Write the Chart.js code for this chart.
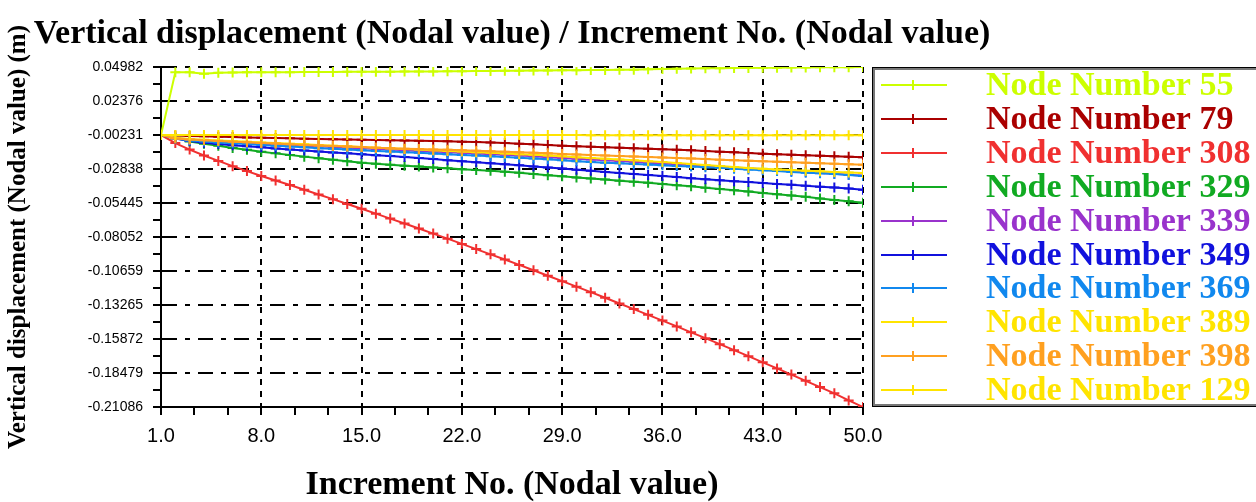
<!DOCTYPE html>
<html>
<head>
<meta charset="utf-8">
<title>Vertical displacement / Increment No.</title>
<script src="https://cdn.jsdelivr.net/npm/chart.js@4.4.1/dist/chart.umd.min.js"></script>
<style>
  html, body { margin: 0; padding: 0; background: #fff; }
  canvas { display: block; }
</style>
</head>
<body>
<canvas id="dispChart" width="1256" height="502"></canvas>
<script>
// Increment numbers (x values)
const increments = [1, 2, 3, 4, 5, 6, 7, 8, 9, 10,
    11, 12, 13, 14, 15, 16, 17, 18, 19, 20,
    21, 22, 23, 24, 25, 26, 27, 28, 29, 30,
    31, 32, 33, 34, 35, 36, 37, 38, 39, 40,
    41, 42, 43, 44, 45, 46, 47, 48, 49, 50];

// Vertical displacement per node (m)
const node55 = [-0.0023, 0.0457, 0.0457, 0.0447, 0.0455, 0.0456, 0.0457, 0.0457, 0.0458, 0.0458,
    0.0459, 0.0459, 0.0460, 0.0461, 0.0461, 0.0462, 0.0462, 0.0463, 0.0463, 0.0464,
    0.0465, 0.0466, 0.0467, 0.0468, 0.0469, 0.0470, 0.0471, 0.0472, 0.0473, 0.0474,
    0.0475, 0.0476, 0.0477, 0.0478, 0.0480, 0.0482, 0.0484, 0.0486, 0.0488, 0.0489,
    0.0490, 0.0491, 0.0492, 0.0493, 0.0494, 0.0495, 0.0496, 0.0497, 0.0497, 0.04982];
const node79 = [-0.0023, -0.0027, -0.0030, -0.0033, -0.0036, -0.0039, -0.0042, -0.0045, -0.0047, -0.0049,
    -0.0051, -0.0053, -0.0055, -0.0057, -0.0059, -0.0061, -0.0063, -0.0065, -0.0067, -0.0069,
    -0.0071, -0.0074, -0.0077, -0.0081, -0.0085, -0.0090, -0.0095, -0.0100, -0.0105, -0.0109,
    -0.0113, -0.0117, -0.0121, -0.0125, -0.0129, -0.0133, -0.0137, -0.0141, -0.0146, -0.0151,
    -0.0156, -0.0161, -0.0166, -0.0171, -0.0175, -0.0179, -0.0183, -0.0187, -0.0190, -0.0193];
const node308 = [-0.0023, -0.0085, -0.0135, -0.0180, -0.0222, -0.0262, -0.0300, -0.0337, -0.0372, -0.0407,
    -0.0443, -0.0479, -0.0515, -0.0552, -0.0589, -0.0626, -0.0664, -0.0702, -0.0740, -0.0779,
    -0.0818, -0.0858, -0.0898, -0.0938, -0.0978, -0.1019, -0.1060, -0.1102, -0.1144, -0.1186,
    -0.1228, -0.1271, -0.1315, -0.1358, -0.1402, -0.1446, -0.1491, -0.1536, -0.1581, -0.1627,
    -0.1673, -0.1719, -0.1766, -0.1813, -0.1860, -0.1908, -0.1956, -0.2004, -0.2058, -0.21086];
const node329 = [-0.0023, -0.0045, -0.0073, -0.0090, -0.0106, -0.0122, -0.0137, -0.0151, -0.0164, -0.0177,
    -0.0189, -0.0201, -0.0213, -0.0224, -0.0235, -0.0243, -0.0251, -0.0258, -0.0265, -0.0272,
    -0.0279, -0.0285, -0.0292, -0.0298, -0.0304, -0.0313, -0.0322, -0.0331, -0.0340, -0.0349,
    -0.0357, -0.0365, -0.0373, -0.0381, -0.0390, -0.0399, -0.0408, -0.0417, -0.0427, -0.0437,
    -0.0447, -0.0457, -0.0467, -0.0477, -0.0487, -0.0497, -0.0510, -0.0521, -0.0532, -0.0542];
const node339 = [-0.0023, -0.0045, -0.0058, -0.0066, -0.0072, -0.0078, -0.0084, -0.0090, -0.0095, -0.0100,
    -0.0105, -0.0110, -0.0115, -0.0120, -0.0125, -0.0130, -0.0135, -0.0140, -0.0145, -0.0150,
    -0.0155, -0.0160, -0.0165, -0.0170, -0.0175, -0.0181, -0.0187, -0.0193, -0.0199, -0.0205,
    -0.0211, -0.0217, -0.0223, -0.0229, -0.0235, -0.0241, -0.0247, -0.0253, -0.0259, -0.0265,
    -0.0272, -0.0279, -0.0286, -0.0293, -0.0300, -0.0307, -0.0314, -0.0321, -0.0328, -0.0335];
const node349 = [-0.0023, -0.0050, -0.0070, -0.0082, -0.0092, -0.0101, -0.0110, -0.0118, -0.0126, -0.0134,
    -0.0142, -0.0150, -0.0157, -0.0164, -0.0171, -0.0178, -0.0185, -0.0192, -0.0200, -0.0208,
    -0.0216, -0.0224, -0.0232, -0.0240, -0.0248, -0.0256, -0.0264, -0.0272, -0.0280, -0.0289,
    -0.0298, -0.0306, -0.0314, -0.0322, -0.0330, -0.0338, -0.0346, -0.0354, -0.0362, -0.0370,
    -0.0377, -0.0384, -0.0391, -0.0398, -0.0405, -0.0412, -0.0419, -0.0426, -0.0434, -0.0442];
const node369 = [-0.0023, -0.0050, -0.0065, -0.0073, -0.0080, -0.0087, -0.0093, -0.0100, -0.0106, -0.0112,
    -0.0118, -0.0124, -0.0129, -0.0135, -0.0140, -0.0145, -0.0150, -0.0155, -0.0160, -0.0165,
    -0.0170, -0.0176, -0.0181, -0.0186, -0.0191, -0.0197, -0.0203, -0.0210, -0.0217, -0.0224,
    -0.0230, -0.0235, -0.0240, -0.0245, -0.0250, -0.0255, -0.0260, -0.0265, -0.0270, -0.0275,
    -0.0281, -0.0287, -0.0294, -0.0300, -0.0306, -0.0312, -0.0317, -0.0323, -0.0329, -0.0337];
const node389 = [-0.0023, -0.0045, -0.0053, -0.0059, -0.0065, -0.0070, -0.0075, -0.0080, -0.0085, -0.0090,
    -0.0095, -0.0100, -0.0105, -0.0110, -0.0115, -0.0120, -0.0125, -0.0130, -0.0135, -0.0140,
    -0.0145, -0.0150, -0.0155, -0.0160, -0.0165, -0.0170, -0.0175, -0.0181, -0.0187, -0.0193,
    -0.0199, -0.0205, -0.0211, -0.0217, -0.0224, -0.0231, -0.0238, -0.0245, -0.0253, -0.0261,
    -0.0269, -0.0276, -0.0282, -0.0287, -0.0292, -0.0297, -0.0302, -0.0306, -0.0310, -0.0314];
const node398 = [-0.0023, -0.0050, -0.0058, -0.0064, -0.0069, -0.0074, -0.0079, -0.0084, -0.0089, -0.0094,
    -0.0099, -0.0104, -0.0108, -0.0112, -0.0116, -0.0120, -0.0124, -0.0128, -0.0131, -0.0134,
    -0.0137, -0.0140, -0.0144, -0.0148, -0.0152, -0.0156, -0.0160, -0.0164, -0.0168, -0.0172,
    -0.0176, -0.0180, -0.0184, -0.0188, -0.0192, -0.0196, -0.0200, -0.0204, -0.0208, -0.0212,
    -0.0216, -0.0220, -0.0224, -0.0228, -0.0232, -0.0236, -0.0240, -0.0244, -0.0248, -0.0252];
const node129 = [-0.0023, -0.0023, -0.0023, -0.0023, -0.0023, -0.0023, -0.0023, -0.0023, -0.0023, -0.0023,
    -0.0024, -0.0024, -0.0024, -0.0024, -0.0024, -0.0024, -0.0024, -0.0024, -0.0024, -0.0024,
    -0.0024, -0.0024, -0.0024, -0.0024, -0.0024, -0.0024, -0.0024, -0.0024, -0.0024, -0.0024,
    -0.0025, -0.0025, -0.0025, -0.0025, -0.0025, -0.0025, -0.0025, -0.0025, -0.0025, -0.0025,
    -0.0025, -0.0025, -0.0025, -0.0025, -0.0025, -0.0025, -0.0025, -0.0025, -0.0025, -0.0025];

const nodeNames = ['Node Number 55', 'Node Number 79', 'Node Number 308', 'Node Number 329', 'Node Number 339',
    'Node Number 349', 'Node Number 369', 'Node Number 389', 'Node Number 398', 'Node Number 129'];
const nodeSeries = [node55, node79, node308, node329, node339, node349, node369, node389, node398, node129];
const nodeColors = ['#ccff00', '#aa0000', '#f03030', '#11aa22', '#9933cc',
    '#1111dd', '#1188ee', '#ffe400', '#ffa020', '#ffe400'];

// Axis tick labels
const xTickLabels = ['1.0', '8.0', '15.0', '22.0', '29.0', '36.0', '43.0', '50.0'];
const yTickLabels = ['0.04982', '0.02376', '-0.00231', '-0.02838', '-0.05445', '-0.08052',
    '-0.10659', '-0.13265', '-0.15872', '-0.18479', '-0.21086'];

const serif = '"Liberation Serif", "Times New Roman", serif';
const sans = '"Liberation Sans", Arial, sans-serif';

// major ticks from the label arrays plus unlabelled minor ticks in between
function withMinors(values, parts) {
    const ticks = [];
    values.forEach((v, i) => {
        ticks.push({value: v});
        if (i < values.length - 1) {
            const step = (values[i + 1] - v) / parts;
            for (let k = 1; k < parts; k++) {
                ticks.push({value: v + step * k, minor: true});
            }
        }
    });
    return ticks;
}

const xMajors = xTickLabels.map(Number);
const yMajors = yTickLabels.map(Number).reverse();

const datasets = nodeSeries.map((series, i) => ({
    label: nodeNames[i],
    data: increments.map((inc, j) => ({x: inc, y: series[j]})),
    borderColor: nodeColors[i],
    backgroundColor: nodeColors[i],
    borderWidth: 2,
    pointStyle: 'cross',
    pointRadius: 5,
    pointBorderWidth: 2,
    pointBorderColor: nodeColors[i],
    tension: 0,
    fill: false,
    order: -i // later nodes drawn on top
}));

// title above the plot and the boxed legend on the right
const framePlugin = {
    id: 'framePlugin',
    afterDraw(chart) {
        const ctx = chart.ctx;
        const area = chart.chartArea;
        ctx.save();
        ctx.fillStyle = '#000';
        ctx.font = 'bold 34px ' + serif;
        ctx.textAlign = 'center';
        ctx.textBaseline = 'alphabetic';
        ctx.fillText('Vertical displacement (Nodal value) / Increment No. (Nodal value)', (area.left + area.right) / 2, 43);

        // legend box
        const boxLeft = area.right + 9;
        ctx.strokeStyle = '#000';
        ctx.lineWidth = 1;
        ctx.strokeRect(boxLeft + 0.5, area.top + 0.5, 400, area.bottom - area.top - 1);
        ctx.strokeStyle = '#777';
        ctx.lineWidth = 2;
        ctx.strokeRect(boxLeft + 2, area.top + 2, 400, area.bottom - area.top - 4);

        ctx.textAlign = 'left';
        ctx.textBaseline = 'middle';
        ctx.font = 'bold 34px ' + serif;
        chart.data.datasets.forEach((ds, i) => {
            const y = Math.round(area.top + 18 + i * 33.9);
            ctx.strokeStyle = ds.borderColor;
            ctx.lineWidth = 2;
            ctx.beginPath();
            ctx.moveTo(boxLeft + 9, y);
            ctx.lineTo(boxLeft + 75, y);
            ctx.moveTo(boxLeft + 41, y - 5);
            ctx.lineTo(boxLeft + 41, y + 5);
            ctx.stroke();
            ctx.fillStyle = ds.borderColor;
            ctx.fillText(ds.label, boxLeft + 114, y + 1);
        });
        ctx.restore();
    }
};

const ctxDisp = document.getElementById('dispChart').getContext('2d');
new Chart(ctxDisp, {
    type: 'line',
    data: {datasets: datasets},
    options: {
        responsive: false,
        animation: false,
        layout: {
            padding: {top: 67, right: 393, left: 0, bottom: 0}
        },
        scales: {
            x: {
                type: 'linear',
                min: xMajors[0],
                max: xMajors[xMajors.length - 1],
                afterBuildTicks: (scale) => { scale.ticks = withMinors(xMajors, 3); },
                afterFit: (scale) => { scale.height = 95; },
                ticks: {
                    autoSkip: false,
                    maxRotation: 0,
                    padding: 9,
                    color: '#000',
                    font: {family: sans, size: 20},
                    callback: (value, index, ticks) => ticks[index].minor ? '' : value.toFixed(1)
                },
                grid: {
                    color: (c) => (c.tick && c.tick.minor) ? 'rgba(0,0,0,0)' : '#000',
                    lineWidth: 2,
                    tickColor: '#000',
                    tickWidth: 2,
                    tickLength: 8,
                    tickBorderDash: []
                },
                border: {color: '#000', width: 2, dash: [6, 6]},
                title: {
                    display: true,
                    text: 'Increment No. (Nodal value)',
                    color: '#000',
                    font: {family: serif, size: 34, weight: 'bold', lineHeight: 1},
                    padding: {top: 0, bottom: 0}
                }
            },
            y: {
                type: 'linear',
                min: yMajors[0],
                max: yMajors[yMajors.length - 1],
                afterBuildTicks: (scale) => { scale.ticks = withMinors(yMajors, 2); },
                afterFit: (scale) => { scale.width = 161; },
                ticks: {
                    autoSkip: false,
                    padding: 10,
                    color: '#000',
                    font: {family: sans, size: 14},
                    callback: (value, index, ticks) => ticks[index].minor ? '' : value.toFixed(5)
                },
                grid: {
                    color: (c) => (c.tick && c.tick.minor) ? 'rgba(0,0,0,0)' : '#000',
                    lineWidth: 2,
                    tickColor: '#000',
                    tickWidth: 2,
                    tickLength: 8,
                    tickBorderDash: []
                },
                border: {color: '#000', width: 2, dash: [15, 8, 5, 8]},
                title: {
                    display: true,
                    text: 'Vertical displacement (Nodal value) (m)',
                    color: '#000',
                    font: {family: serif, size: 25, weight: 'bold', lineHeight: 1.2},
                    padding: {top: 4, bottom: 0}
                }
            }
        },
        plugins: {
            legend: {display: false},
            tooltip: {enabled: false}
        }
    },
    plugins: [framePlugin]
});
</script>
</body>
</html>
